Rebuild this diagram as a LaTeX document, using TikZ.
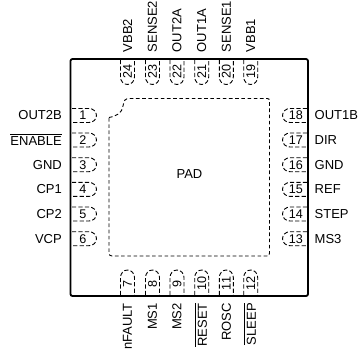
\documentclass[tikz,border=0pt]{standalone}
\usepackage{fontspec}
\setmainfont{Liberation Sans}
\newcommand{\ovl}[1]{\leavevmode\vbox{\hrule height 0.9pt\kern 1.6pt\hbox{#1}}}
\tikzset{
  x=1bp,y=-1bp,
  pkg/.style={line width=1.8bp,black,line join=round},
  pad/.style={line width=0.9bp,black,dash pattern=on 3.6bp off 2.6bp},
  pinout/.style={line width=0.9bp,black,dash pattern=on 4.2bp off 2.2bp},
  lab/.style={inner sep=0pt,font=\fontsize{13bp}{14bp}\selectfont,text=black},
  num/.style={inner sep=0pt,font=\fontsize{12.6bp}{14bp}\selectfont,text=black},
}
\begin{document}
\begin{tikzpicture}
\useasboundingbox (0,0) rectangle (359,352);
\draw[pkg,rounded corners=2bp] (70.5,59) rectangle (308,296);
\draw[pad] (109,117.5) .. controls (117,116) and (122,113) .. (123,106) .. controls (124,100) and (125,98.5) .. (130,98.5)
  -- (267,98.5) .. controls (269,98.5) and (269.5,99) .. (269.5,101) -- (269.5,253) .. controls (269.5,255.5) and (269,256) .. (267,256)
  -- (112,256) .. controls (110,256) and (109,255) .. (109,253) -- cycle;
\node[lab] (padlabel) at (189.5,174) {PAD};
% left pins
\foreach \n/\y in {1/115.5,2/140,3/164.7,4/189.4,5/214,6/238.7}{
  \draw[pinout] (72,\y-7) -- (89,\y-7) .. controls (93.1,\y-7) and (96.5,\y-3.9) .. (96.5,\y) .. controls (96.5,\y+3.9) and (93.1,\y+7) .. (89,\y+7) -- (72,\y+7);
  \node[num] (p\n) at (83,\y) {\n};
}
\node[lab,anchor=east] (l1) at (62,115.5) {OUT2B};
\node[lab,anchor=south east] (l2) at (62,146) {\ovl{ENABLE}};
\node[lab,anchor=east] (l3) at (62,164.7) {GND};
\node[lab,anchor=east] (l4) at (62,189.4) {CP1};
\node[lab,anchor=east] (l5) at (62,214) {CP2};
\node[lab,anchor=east] (l6) at (62,238.7) {VCP};
% right pins
\foreach \n/\t/\y in {18/OUT1B/115.5,17/DIR/140,16/GND/164.7,15/REF/189.4,14/STEP/214,13/MS3/238.7}{
  \draw[pinout] (307,\y-7) -- (290,\y-7) .. controls (285.9,\y-7) and (282.5,\y-3.9) .. (282.5,\y) .. controls (282.5,\y+3.9) and (285.9,\y+7) .. (290,\y+7) -- (307,\y+7);
  \node[num] (p\n) at (296,\y) {\n};
  \node[lab,anchor=west] (l\n) at (314.5,\y) {\t};
}
% top pins
\foreach \n/\t/\x in {24/VBB2/127.5,23/SENSE2/152.5,22/OUT2A/177,21/OUT1A/201.7,20/SENSE1/226.3,19/VBB1/250.7}{
  \draw[pinout] (\x-7,60) -- (\x-7,77) .. controls (\x-7,81.1) and (\x-3.9,84.5) .. (\x,84.5) .. controls (\x+3.9,84.5) and (\x+7,81.1) .. (\x+7,77) -- (\x+7,60);
  \node[num,rotate=90] (p\n) at (\x,71.5) {\n};
  \node[lab,rotate=90,anchor=west] (l\n) at (\x,52.5) {\t};
}
% bottom pins
\foreach \n/\t/\x in {7/nFAULT/127.5,8/MS1/152.5,9/MS2/177,11/ROSC/226.3}{
  \node[lab,rotate=90,anchor=east] (l\n) at (\x,303) {\t};
}
\node[lab,rotate=90,anchor=north east] (l10) at (195,303) {\ovl{RESET}};
\node[lab,rotate=90,anchor=north east] (l12) at (244,303) {\ovl{SLEEP}};
\foreach \n/\x in {7/127.5,8/152.5,9/177,10/201.7,11/226.3,12/250.7}{
  \draw[pinout] (\x-7,295) -- (\x-7,277.5) .. controls (\x-7,273.4) and (\x-3.9,270) .. (\x,270) .. controls (\x+3.9,270) and (\x+7,273.4) .. (\x+7,277.5) -- (\x+7,295);
  \node[num,rotate=90] (p\n) at (\x,283.5) {\n};
}
\end{tikzpicture}
\end{document}
